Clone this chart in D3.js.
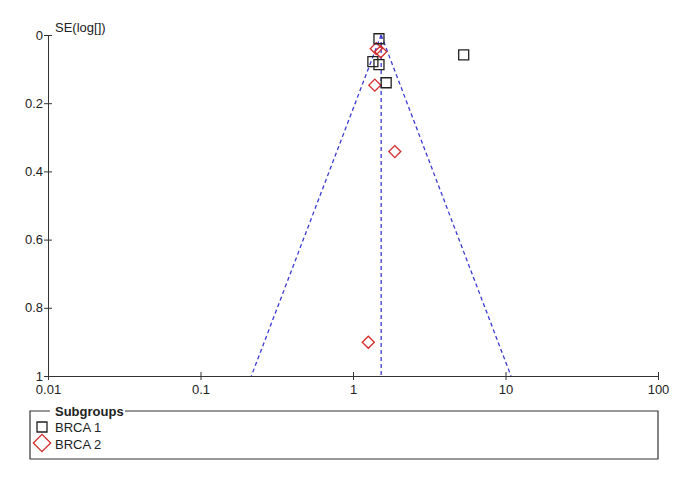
<!DOCTYPE html>
<html><head><meta charset="utf-8">
<script src="https://cdn.jsdelivr.net/npm/d3@7"></script>
<style>body{margin:0;background:#fff}svg{font-family:"Liberation Sans",Arial,sans-serif}</style>
</head><body><svg id="c" width="685" height="480"></svg>
<script>
const xTicks = [0.01, 0.1, 1, 10, 100];
const xTickLabels = ["0.01", "0.1", "1", "10", "100"];
const yTicks = [0, 0.2, 0.4, 0.6, 0.8, 1];
const yTickLabels = ["0", "0.2", "0.4", "0.6", "0.8", "1"];
const brca1OR = [1.48, 5.32, 1.35, 1.48, 1.65];
const brca1SE = [0.011, 0.058, 0.078, 0.087, 0.140];
const brca2OR = [1.42, 1.52, 1.39, 1.88, 1.26];
const brca2SE = [0.040, 0.049, 0.147, 0.342, 0.901];
const pooledOR = 1.53;
const seMax = 1;
const subgroups = ["BRCA 1", "BRCA 2"];
const yLabel = "SE(log[])";
const legendTitle = "Subgroups";

const svg = d3.select("#c");
const x = d3.scaleLog().domain([0.01, 100]).range([48, 658]);
const y = d3.scaleLinear().domain([0, 1]).range([35, 376]);
const blue = "#3a3ad4";

// funnel lines
const funnel = [
  [[pooledOR, 0], [pooledOR * Math.exp(-1.96 * seMax), seMax]],
  [[pooledOR, 0], [pooledOR * Math.exp(1.96 * seMax), seMax]],
  [[pooledOR, 0], [pooledOR, seMax]]
];
const line = d3.line().x(d => x(d[0])).y(d => y(d[1]));
svg.selectAll("path.funnel").data(funnel).join("path")
  .attr("class","funnel").attr("d", line)
  .attr("fill","none").attr("stroke", blue).attr("stroke-width",1.3)
  .attr("stroke-dasharray","4,3");

// axes
const xAxis = d3.axisBottom(x).tickValues(xTicks).tickFormat((d,i)=>xTickLabels[i]).tickSizeOuter(0).tickSizeInner(4);
const gx = svg.append("g").attr("transform","translate(0,376)").call(xAxis);
gx.select(".domain").attr("stroke","#333");
gx.selectAll(".tick line").attr("y1",-4).attr("y2",4).attr("stroke","#333");
gx.selectAll(".tick text").attr("y",9).attr("font-size",13).attr("fill","#222").attr("font-family","Liberation Sans, Arial, sans-serif");

const yAxis = d3.axisLeft(y).tickValues(yTicks).tickFormat((d,i)=>yTickLabels[i]).tickSizeOuter(0).tickSizeInner(4);
const gy = svg.append("g").attr("transform","translate(48,0)").call(yAxis);
gy.select(".domain").attr("stroke","#333");
gy.selectAll(".tick line").attr("x1",-4).attr("x2",4).attr("stroke","#333");
gy.selectAll(".tick text").attr("x",-5).attr("font-size",13).attr("fill","#222").attr("font-family","Liberation Sans, Arial, sans-serif");

svg.append("text").attr("x",55).attr("y",32).attr("font-size",13).attr("fill","#222").text(yLabel);

// points
const d1 = brca1OR.map((v,i)=>({or:v, se:brca1SE[i]}));
const d2 = brca2OR.map((v,i)=>({or:v, se:brca2SE[i]}));
const sq = d3.symbol().type(d3.symbolSquare).size(100);
const dia = d3.symbol().type(d3.symbolSquare).size(72);
svg.selectAll("path.b2").data(d2).join("path").attr("class","b2")
  .attr("d", dia).attr("transform", d=>`translate(${x(d.or)},${y(d.se)}) rotate(45)`)
  .attr("fill","none").attr("stroke","#d42a2a").attr("stroke-width",1.3);
svg.selectAll("path.b1").data(d1).join("path").attr("class","b1")
  .attr("d", sq).attr("transform", d=>`translate(${x(d.or)},${y(d.se)})`)
  .attr("fill","none").attr("stroke","#222").attr("stroke-width",1.3);

// legend
const lg = svg.append("g");
lg.append("path").attr("d","M50,411 H30 V459 H658 V411 H125")
  .attr("fill","none").attr("stroke","#333").attr("stroke-width",1.2);
lg.append("text").attr("x",55).attr("y",416).attr("font-size",13).attr("font-weight","bold").attr("fill","#222").text(legendTitle);
lg.append("path").attr("d", d3.symbol().type(d3.symbolSquare).size(100)).attr("transform","translate(42,427)")
  .attr("fill","none").attr("stroke","#222").attr("stroke-width",1.3);
lg.append("path").attr("d", d3.symbol().type(d3.symbolSquare).size(150)).attr("transform","translate(42,443) rotate(45)")
  .attr("fill","none").attr("stroke","#d42a2a").attr("stroke-width",1.3);
lg.selectAll("text.li").data(subgroups).join("text").attr("class","li")
  .attr("x",55).attr("y",(d,i)=>432+i*17).attr("font-size",13).attr("fill","#222").text(d=>d);
</script></body></html>
